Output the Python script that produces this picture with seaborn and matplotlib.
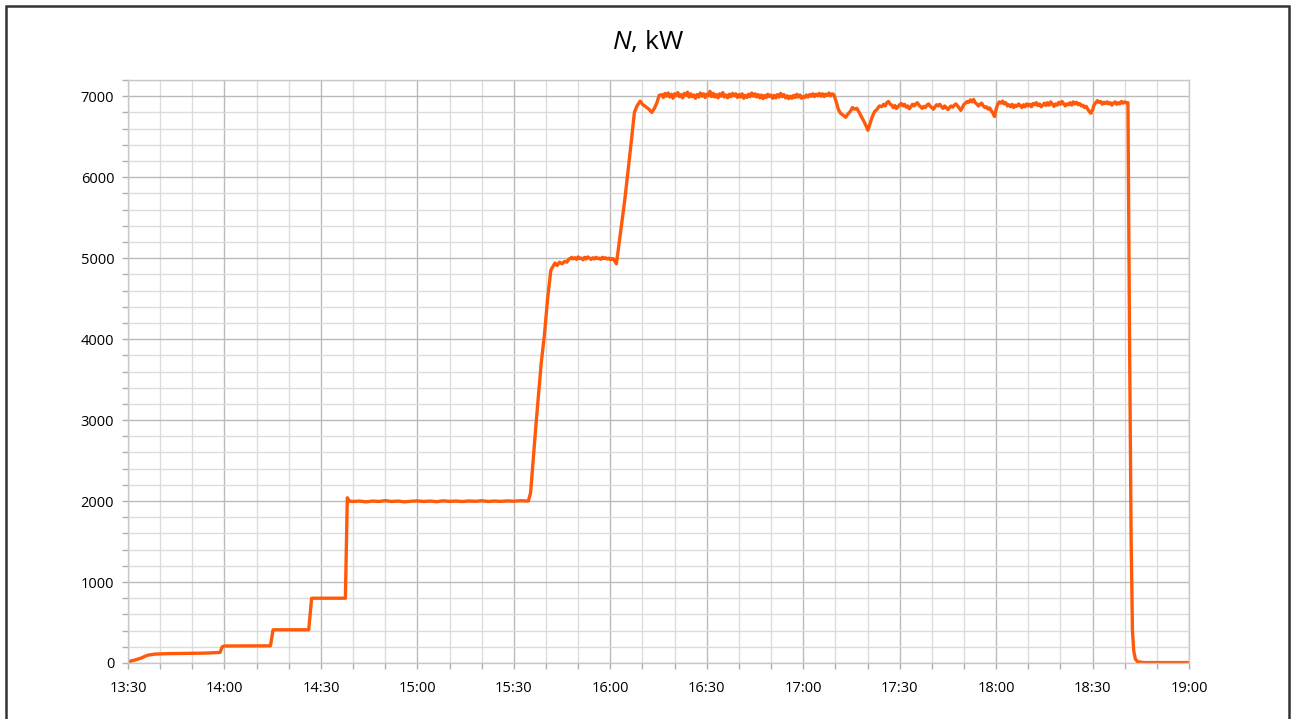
import numpy as np
import pandas as pd
import matplotlib
matplotlib.use("Agg")
import matplotlib.pyplot as plt
import matplotlib.dates as mdates
from matplotlib.ticker import MultipleLocator
from matplotlib.patches import Rectangle
import seaborn as sns

# Logged power readings, minutes after 13:30
start_min = [0.0, 2.0, 4.0, 6.0, 8.4, 12.0, 18.0, 24.0, 28.6, 29.3, 30.0,
             44.3, 45.1, 56.2, 57.1, 67.6, 68.2, 68.8,
             70, 72, 74, 76, 78, 80, 82, 84, 86, 88, 90, 92, 94, 96, 98, 100,
             102, 104, 106, 108, 110, 112, 114, 116, 118, 120, 122, 124.5,
             125.2, 127.0, 128.5, 129.5, 130.5, 131.5, 132.2, 132.8, 133.5,
             134.2, 135.0, 135.8, 136.5]
start_kw = [15, 35, 60, 95, 110, 115, 118, 122, 130, 200, 210,
            212, 410, 410, 800, 800, 2040, 2000,
            1995, 2000, 1990, 2000, 1995, 2005, 1995, 2000, 1990, 1998, 2002,
            1995, 2000, 1992, 2003, 1996, 2000, 1994, 2001, 1997, 2004, 1995,
            2000, 1996, 2002, 1998, 2004, 2000,
            2100, 3000, 3700, 4050, 4500, 4850, 4900, 4940, 4910,
            4950, 4930, 4960, 4950]

# 5000 kW hold, sampled every 30 s from 137.0 min
hold5000_t0 = 137.0
hold5000_kw = [4985, 4995, 5010, 4990, 5005, 4985, 5015, 4995, 5000, 4980,
               5010, 4990, 5015, 5000, 4985, 5005, 4990, 5010, 4995, 5000,
               4985, 5010, 4995, 5005, 4990, 5000, 4980, 4995, 4990]

ramp7000_min = [151.9, 152.8, 154.5, 156.0, 157.5, 158.3, 159.3, 160.0, 161.0,
                162.0, 162.9, 163.7, 164.5, 165.2]
ramp7000_kw = [4930, 5200, 5720, 6250, 6800, 6880, 6940, 6900, 6870,
               6840, 6800, 6850, 6920, 7010]

# 7000 kW hold, sampled every 30 s from 166.0 min
hold7000_t0 = 166.0
hold7000_kw = [7020, 6985, 7035, 7000, 7040, 6990, 7025, 6975, 7030, 7005,
               7045, 6995, 7020, 6980, 7035, 7010, 7050, 6990, 7030, 6995,
               7015, 6975, 7020, 6990, 7040, 7000, 7030, 6985, 7025, 7005,
               7060, 6995, 7035, 6990, 7020, 6980, 7030, 7000, 7045, 6990,
               7015, 6980, 7025, 6995, 7035, 7005, 7030, 6985, 7020, 6990,
               7030, 6975, 7010, 6985, 7025, 6995, 7040, 7000, 7030, 6990,
               7020, 6980, 7015, 6970, 7010, 6985, 7025, 6995, 7015, 6975,
               7010, 6980, 7020, 6990, 7035, 6995, 7020, 6980, 7005, 6970,
               7000, 6975, 7010, 6985, 7025, 6990, 7015, 6975, 6995, 6985,
               7015, 6990, 7020, 7000, 7030, 6995, 7025, 7005, 7035, 7000,
               7030, 6995, 7025, 7010, 7040, 7005, 7030]

sag_min = [219.5, 220.2, 221.0, 221.6, 222.3, 223.2, 223.9, 224.6, 225.3,
           226.0, 226.7, 227.4, 228.2, 229.0, 229.6, 230.1, 230.7, 231.4,
           232.2, 233.0, 233.7, 234.4]
sag_kw = [7020, 6940, 6830, 6790, 6770, 6740, 6780, 6810, 6860,
          6840, 6850, 6800, 6740, 6680, 6630, 6580, 6650, 6740,
          6810, 6840, 6880, 6870]

# 6900 kW hold, sampled every 30 s from 235.0 min
hold6900_t0 = 235.0
hold6900_kw = [6900, 6880, 6920, 6935, 6905, 6890, 6860, 6885, 6850, 6870,
               6895, 6910, 6880, 6900, 6865, 6880, 6845, 6870, 6900, 6880,
               6905, 6920, 6890, 6870, 6850, 6875, 6860, 6890, 6905, 6875,
               6860, 6840, 6870, 6895, 6880, 6900, 6870, 6850, 6880, 6860,
               6835, 6860, 6880, 6865, 6890, 6905, 6880, 6855, 6825, 6860,
               6900, 6915, 6935, 6925, 6955, 6930, 6960, 6920, 6905, 6880,
               6900, 6915, 6880, 6860, 6870, 6840, 6855, 6820, 6790, 6750,
               6840, 6900, 6930, 6915, 6940, 6905, 6920, 6880, 6895, 6870,
               6900, 6860, 6890, 6875, 6905, 6885, 6860, 6895, 6870, 6905,
               6880, 6900, 6870, 6910, 6895, 6920, 6885, 6905, 6870, 6890,
               6915, 6885, 6920, 6890, 6930, 6900, 6875, 6905, 6890, 6925,
               6900, 6935, 6910, 6880, 6905, 6895, 6920, 6890, 6930, 6905,
               6925, 6895, 6910, 6880, 6890, 6860, 6875, 6840, 6810, 6790,
               6830, 6895, 6920, 6945, 6925, 6935, 6900, 6925, 6910, 6930,
               6905, 6920, 6890, 6915, 6930, 6900, 6920, 6905, 6935, 6915,
               6930, 6920]

shutdown_min = [311.0, 311.5, 312.0, 312.4, 312.8, 313.3, 314.0, 316.0, 330.0]
shutdown_kw = [6920, 4000, 1500, 400, 150, 50, 15, 5, 5]

SAMPLE_STEP = 0.5  # logger interval, minutes


def sampled(t0, values):
    return [t0 + SAMPLE_STEP * i for i in range(len(values))]


minutes = (start_min + sampled(hold5000_t0, hold5000_kw) + ramp7000_min
           + sampled(hold7000_t0, hold7000_kw) + sag_min
           + sampled(hold6900_t0, hold6900_kw) + shutdown_min)
power = (start_kw + hold5000_kw + ramp7000_kw + hold7000_kw + sag_kw
         + hold6900_kw + shutdown_kw)

t_start = pd.Timestamp("2000-01-01 13:30")
df = pd.DataFrame({
    "time": t_start + pd.to_timedelta(minutes, unit="min"),
    "N": power,
})

sns.set_theme(style="white")
plt.rcParams["font.family"] = ["Open Sans", "DejaVu Sans"]
plt.rcParams["mathtext.fontset"] = "custom"
plt.rcParams["mathtext.it"] = "Open Sans:italic"
plt.rcParams["mathtext.rm"] = "Open Sans"

fig = plt.figure(figsize=(12.92, 7.19), dpi=100)
ax = fig.add_axes([0.0991, 0.0779, 0.8212, 0.8108])

sns.lineplot(data=df, x="time", y="N", ax=ax, color="#FF5A0A",
             linewidth=2.4, estimator=None, sort=False)

ax.set_xlim(t_start, t_start + pd.Timedelta(minutes=330))
ax.set_ylim(0, 7200)

ax.xaxis.set_major_locator(mdates.MinuteLocator(byminute=[0, 30]))
ax.xaxis.set_minor_locator(mdates.MinuteLocator(byminute=[10, 20, 40, 50]))
ax.xaxis.set_major_formatter(mdates.DateFormatter("%H:%M"))
ax.yaxis.set_major_locator(MultipleLocator(1000))
ax.yaxis.set_minor_locator(MultipleLocator(200))

ax.grid(which="major", axis="both", color="#bababa", linewidth=1.0)
ax.grid(which="minor", axis="both", color="#dcdcdc", linewidth=1.0)
ax.set_axisbelow(True)

for side in ["left", "bottom", "right", "top"]:
    ax.spines[side].set_visible(True)
    ax.spines[side].set_color("#c8c8c8")
    ax.spines[side].set_linewidth(1.0)

ax.tick_params(which="both", direction="out", length=4, width=1,
               color="#b0b0b0", bottom=True, left=True,
               labelsize=10.5, labelcolor="#000000")
ax.tick_params(axis="x", which="major", pad=9)
ax.tick_params(axis="y", which="major", pad=6)
ax.set_xlabel("")
ax.set_ylabel("")

fig.text(0.5015, 0.942, r"$N$, kW", ha="center", va="center",
         fontsize=19, color="#000000")

# outer frame around the figure
fig.patches.append(Rectangle((0.005, -0.05), 0.993, 1.042,
                             transform=fig.transFigure, fill=False,
                             edgecolor="#333333", linewidth=1.8))

fig.savefig("out.png", dpi=100, facecolor="white")
